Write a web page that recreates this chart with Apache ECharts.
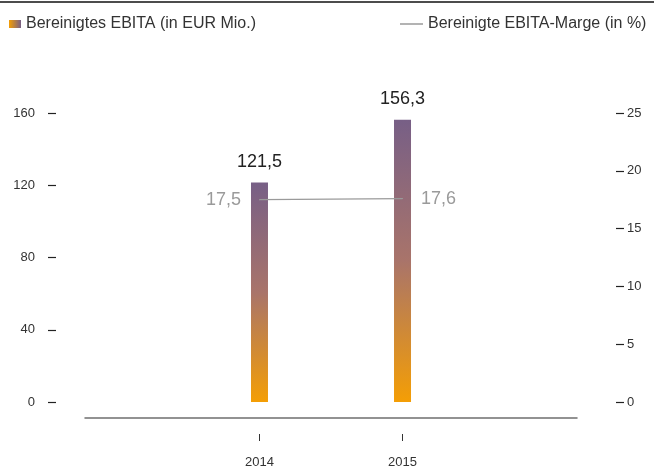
<!DOCTYPE html>
<html style="height: 100%">
<head>
<meta charset="utf-8" />
<title>EBITA</title>
</head>
<body style="height: 100%; margin: 0; background: #fff">
<div id="container" style="width: 654px; height: 470px"></div>
<script type="text/javascript" src="https://cdn.jsdelivr.net/npm/echarts@6/dist/echarts.min.js"></script>
<script type="text/javascript">
var years = [2014, 2015];
var ebita = [121.5, 156.3];
var marge = [17.5, 17.6];
var barName = 'Bereinigtes EBITA (in EUR Mio.)';
var lineName = 'Bereinigte EBITA-Marge (in %)';

function komma(v) {
    return v.toFixed(1).replace('.', ',');
}

var dom = document.getElementById('container');
var myChart = echarts.init(dom);

var barGradient = new echarts.graphic.LinearGradient(0, 0, 0, 1, [
    {offset: 0, color: '#775f86'},
    {offset: 0.5, color: '#a9746a'},
    {offset: 1, color: '#f49e05'}
]);
var legendGradient = new echarts.graphic.LinearGradient(0, 0, 1, 0, [
    {offset: 0, color: '#f49e05'},
    {offset: 1, color: '#775f86'}
]);

var option = {
    animation: false,
    textStyle: {fontFamily: 'Liberation Sans'},
    graphic: [{
        type: 'line',
        shape: {x1: 0, y1: 2, x2: 654, y2: 2},
        style: {stroke: '#111', lineWidth: 1.5}
    }],
    legend: [{
        left: 9, top: 16, padding: 0,
        icon: 'rect', itemWidth: 12, itemHeight: 8,
        textStyle: {fontSize: 16, color: '#333'},
        data: [{name: barName, itemStyle: {color: legendGradient}}]
    }, {
        left: 400, top: 16, padding: 0,
        icon: 'rect', itemWidth: 23, itemHeight: 1.5,
        textStyle: {fontSize: 16, color: '#333'},
        data: [{name: lineName, itemStyle: {color: '#9a9a9a'}}]
    }],
    grid: {left: 85, right: 77, top: 113, bottom: 68},
    xAxis: [{
        type: 'value', min: 2012.78, max: 2016.22,
        offset: 16,
        axisLine: {show: true, onZero: false, lineStyle: {color: '#6f6f6f', width: 1.5}},
        axisTick: {show: false},
        axisLabel: {show: false},
        splitLine: {show: false}
    }, {
        type: 'value', min: 2012.78, max: 2016.22,
        position: 'bottom', offset: 32,
        axisLine: {show: false, onZero: false},
        axisTick: {show: true, length: 7, customValues: years, lineStyle: {color: '#333', width: 1}},
        axisLabel: {customValues: years, margin: 22, fontSize: 13, color: '#333',
            formatter: function (v) { return String(v); }},
        splitLine: {show: false}
    }],
    yAxis: [{
        type: 'value', min: 0, max: 160, interval: 40,
        position: 'left', offset: 29,
        axisLine: {show: false},
        axisTick: {show: true, length: 8, lineStyle: {color: '#222', width: 1.2}},
        axisLabel: {margin: 21, fontSize: 13, color: '#333'},
        splitLine: {show: false}
    }, {
        type: 'value', min: 0, max: 25, interval: 5,
        position: 'right', offset: 39,
        axisLine: {show: false},
        axisTick: {show: true, length: 8, lineStyle: {color: '#222', width: 1.2}},
        axisLabel: {margin: 11, fontSize: 13, color: '#333'},
        splitLine: {show: false}
    }],
    series: [{
        name: barName,
        type: 'bar',
        xAxisIndex: 0, yAxisIndex: 0,
        barWidth: 17,
        itemStyle: {color: barGradient},
        label: {
            show: true, position: 'top', distance: 12,
            fontSize: 18, color: '#222',
            formatter: function (p) { return komma(p.value[1]); }
        },
        data: years.map(function (y, i) { return [y, ebita[i]]; })
    }, {
        name: lineName,
        type: 'line',
        xAxisIndex: 0, yAxisIndex: 1,
        symbol: 'circle', symbolSize: 1, showSymbol: true,
        itemStyle: {color: '#9a9a9a'},
        lineStyle: {color: '#9a9a9a', width: 1.2},
        label: {
            show: true, fontSize: 18, color: '#9a9a9a', distance: 18,
            formatter: function (p) { return komma(p.value[1]); }
        },
        data: years.map(function (y, i) {
            return {value: [y, marge[i]], label: {position: i === 0 ? 'left' : 'right'}};
        }),
        z: 5
    }]
};

myChart.setOption(option);
</script>
</body>
</html>
